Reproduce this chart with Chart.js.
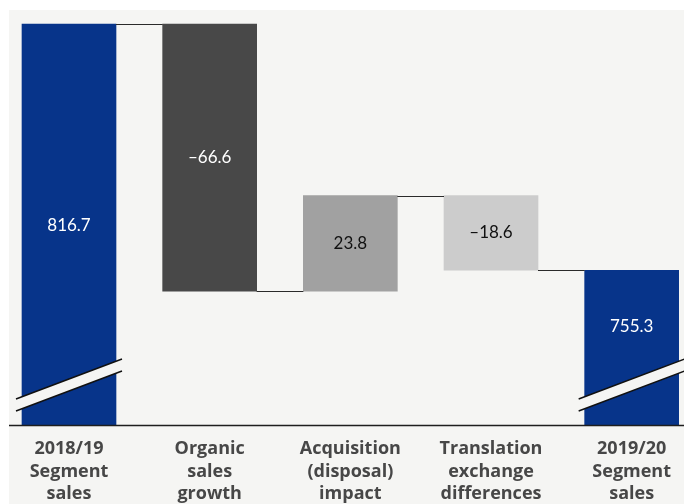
<!DOCTYPE html>
<html>
<head>
<meta charset="utf-8">
<script src="https://cdn.jsdelivr.net/npm/chart.js@4"></script>
<style>
  html, body { margin: 0; padding: 0; background: #ffffff; }
  #wrap { width: 684px; height: 504px; }
</style>
</head>
<body>
<div id="wrap"><canvas id="bridge" width="684" height="504"></canvas></div>
<script>
// Segment sales bridge (values from the picture)
const categories = [
  ["2018/19", "Segment", "sales"],
  ["Organic", "sales", "growth"],
  ["Acquisition", "(disposal)", "impact"],
  ["Translation", "exchange", "differences"],
  ["2019/20", "Segment", "sales"],
];
const openingTotal = 816.7;
const changes = [-66.6, 23.8, -18.6];
const closingTotal = 755.3;
const axisFloor = 716.7; // where the broken axis is cut
const axisTop = 816.7;
const valueLabels = ["816.7", "–66.6", "23.8", "–18.6", "755.3"];

const colorBlue = "#07348a";
const barColors = [colorBlue, "#484848", "#a1a1a1", "#cccccc", colorBlue];
const labelColors = ["#ffffff", "#ffffff", "#111111", "#111111", "#ffffff"];
const panelColor = "#f5f5f3";

// build floating bars [low, high]
const bars = [[axisFloor, openingTotal]];
let running = openingTotal;
changes.forEach((c) => {
  const next = running + c;
  bars.push([Math.min(running, next), Math.max(running, next)]);
  running = next;
});
bars.push([axisFloor, closingTotal]);
// running levels for connector lines
const levels = [openingTotal];
running = openingTotal;
changes.forEach((c) => { running += c; levels.push(running); });

// panel + axis line
const panelPlugin = {
  id: "panel",
  beforeDraw(chart) {
    const ctx = chart.ctx;
    ctx.save();
    ctx.fillStyle = panelColor;
    ctx.fillRect(9, 10, 675, 494);
    ctx.restore();
  },
  afterDraw(chart) {
    const ctx = chart.ctx;
    const y = chart.chartArea.bottom + 0.5;
    ctx.save();
    ctx.strokeStyle = "#1e1e1e";
    ctx.lineWidth = 1.5;
    ctx.beginPath();
    ctx.moveTo(9, y);
    ctx.lineTo(684, y);
    ctx.stroke();
    ctx.restore();
  },
};

// connectors, axis breaks and value labels
const labelShift = [1.5, 0, 0, 0, -21];
const bridgePlugin = {
  id: "bridge",
  afterDatasetsDraw(chart) {
    const ctx = chart.ctx;
    const meta = chart.getDatasetMeta(0);
    const yScale = chart.scales.y;
    ctx.save();

    // connector lines
    ctx.strokeStyle = "#2a2a2a";
    ctx.lineWidth = 1.2;
    levels.forEach((v, i) => {
      const a = meta.data[i], b = meta.data[i + 1];
      const y = Math.round(yScale.getPixelForValue(v)) + 0.5;
      ctx.beginPath();
      ctx.moveTo(a.x + a.width / 2, y);
      ctx.lineTo(b.x - b.width / 2, y);
      ctx.stroke();
    });

    // axis break marks on the total bars
    const bottom = chart.chartArea.bottom;
    [0, meta.data.length - 1].forEach((i) => {
      const bar = meta.data[i];
      const x0 = bar.x - bar.width / 2 - 6;
      const x1 = bar.x + bar.width / 2 + 6;
      const rise = (x1 - x0) * 0.377;
      const yHi0 = bottom - 26, yLo0 = bottom - 14;
      ctx.fillStyle = panelColor;
      ctx.beginPath();
      ctx.moveTo(x0, yHi0);
      ctx.lineTo(x1, yHi0 - rise);
      ctx.lineTo(x1, yLo0 - rise);
      ctx.lineTo(x0, yLo0);
      ctx.closePath();
      ctx.fill();
      ctx.strokeStyle = "#111111";
      ctx.lineWidth = 1.5;
      ctx.beginPath();
      ctx.moveTo(x0, yHi0);
      ctx.lineTo(x1, yHi0 - rise);
      ctx.moveTo(x0, yLo0);
      ctx.lineTo(x1, yLo0 - rise);
      ctx.stroke();
    });

    // value labels
    ctx.font = "17px Lato";
    ctx.textAlign = "center";
    ctx.textBaseline = "middle";
    meta.data.forEach((bar, i) => {
      const top = Math.min(bar.y, bar.base);
      const bot = Math.max(bar.y, bar.base);
      ctx.fillStyle = labelColors[i];
      ctx.fillText(valueLabels[i], bar.x, (top + bot) / 2 + labelShift[i]);
    });
    ctx.restore();
  },
};

new Chart(document.getElementById("bridge"), {
  type: "bar",
  data: {
    labels: categories,
    datasets: [
      {
        data: bars,
        backgroundColor: barColors,
        borderWidth: 0,
        barThickness: 94,
        clip: false,
      },
    ],
  },
  options: {
    responsive: false,
    animation: false,
    layout: { padding: { left: 69, right: 51, top: 24, bottom: 0 } },
    plugins: { legend: { display: false }, tooltip: { enabled: false } },
    scales: {
      x: {
        type: "category",
        offset: false,
        grid: { display: false, drawTicks: false },
        border: { display: false },
        afterFit: (s) => { s.height = 79; },
        ticks: {
          autoSkip: false,
          maxRotation: 0,
          padding: 13,
          color: "#474747",
          font: { family: "'Open Sans'", size: 18, weight: "bold", lineHeight: 1.25 },
        },
      },
      y: { display: false, min: axisFloor, max: axisTop },
    },
  },
  plugins: [panelPlugin, bridgePlugin],
});
</script>
</body>
</html>
